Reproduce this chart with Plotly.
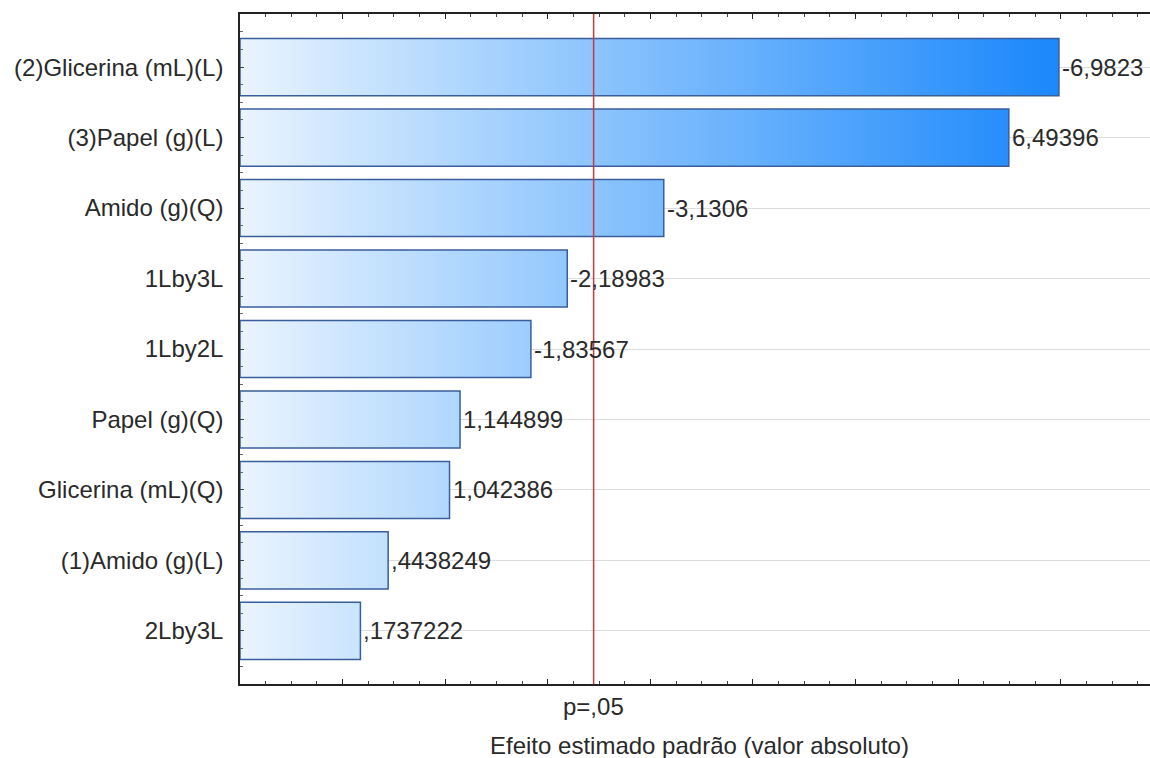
import plotly.graph_objects as go

# ---- data ----
factors = ["(2)Glicerina (mL)(L)", "(3)Papel (g)(L)", "Amido (g)(Q)", "1Lby3L", "1Lby2L",
           "Papel (g)(Q)", "Glicerina (mL)(Q)", "(1)Amido (g)(L)", "2Lby3L"]
effects = [-6.9823, 6.49396, -3.1306, -2.18983, -1.83567, 1.144899, 1.042386, 0.4438249, 0.1737222]
t_crit = 2.4469           # p = .05 reference
x_min, x_max = -1.0, 7.87
p_label = "p=,05"
x_title = "Efeito estimado padrão (valor absoluto)"

FONT = "Liberation Sans, Arial, sans-serif"
TXT = "#2a2a2a"
FS = 24


def fmt(v):
    s = repr(v)
    neg = s.startswith("-")
    s = s.lstrip("-")
    if s.startswith("0."):
        s = s[1:]
    s = s.replace(".", ",")
    return ("-" if neg else "") + s


fig = go.Figure()
half = 0.405
for i, (f, v) in enumerate(zip(factors, effects)):
    a = abs(v)
    fig.add_trace(go.Scatter(
        x=[x_min, a, a, x_min, x_min],
        y=[i - half, i - half, i + half, i + half, i - half],
        mode="lines", fill="toself",
        line=dict(color="#3a5e9c", width=1.5),
        fillgradient=dict(type="horizontal",
                          colorscale=[[0, "#eaf4fe"], [0.4, "#93c8fd"], [1, "#1a87fb"]],
                          start=x_min, stop=7.0),
        hoverinfo="skip", showlegend=False,
    ))
    fig.add_annotation(x=a, y=i, text=fmt(v), showarrow=False, xanchor="left",
                       yanchor="middle", xshift=1,
                       font=dict(family=FONT, size=FS, color=TXT))

fig.add_shape(type="line", x0=t_crit, x1=t_crit, y0=0, y1=1, yref="paper",
              line=dict(color="#cc3b3b", width=1.5))
fig.add_annotation(x=t_crit, y=0, yref="paper", yshift=-22, text=p_label, showarrow=False,
                   yanchor="middle", font=dict(family=FONT, size=FS, color=TXT))
fig.add_annotation(x=0.5, xref="paper", y=0, yref="paper", yshift=-61, xshift=4, text=x_title,
                   showarrow=False, yanchor="middle", font=dict(family=FONT, size=FS, color=TXT))

fig.update_layout(
    width=1150, height=758,
    margin=dict(l=240, r=0, t=14, b=74),
    paper_bgcolor="white", plot_bgcolor="white",
    font=dict(family=FONT, size=FS, color=TXT),
    xaxis=dict(range=[x_min, x_max], showgrid=False, zeroline=False, showline=True,
               linecolor="#222", linewidth=1.5, mirror="allticks", ticks="inside",
               tick0=0, dtick=1, ticklen=5, tickcolor="#222", showticklabels=False,
               minor=dict(dtick=0.25, tick0=0, ticklen=3, tickcolor="#444", ticks="inside")),
    yaxis=dict(range=[len(factors) - 1 + 0.754, -0.754], tickmode="array",
               tickvals=list(range(len(factors))), ticktext=factors,
               showgrid=True, gridcolor="#dcdcdc", gridwidth=1, zeroline=False,
               showline=True, linecolor="#222", linewidth=1.5, mirror=False,
               ticks="inside", ticklen=4, tickcolor="#444", ticklabelstandoff=10,
               minor=dict(dtick=0.25, tick0=0, ticklen=3, tickcolor="#666", ticks="inside",
                          showgrid=False)),
)

fig.write_html("out.html")
